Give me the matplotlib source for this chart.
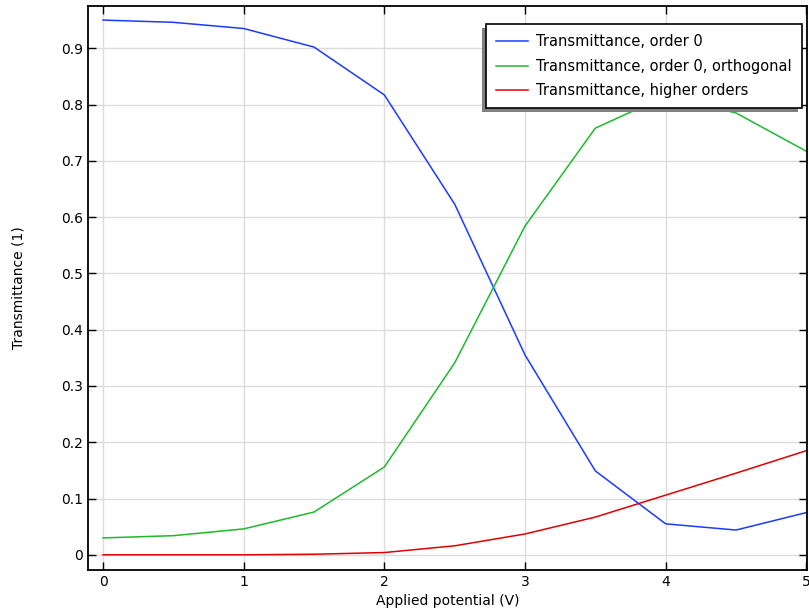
import matplotlib
matplotlib.use("Agg")
import matplotlib.pyplot as plt
from matplotlib.patches import Rectangle

voltage = [0, 0.5, 1, 1.5, 2, 2.5, 3, 3.5, 4, 4.5, 5]
t_order0 = [0.950, 0.946, 0.935, 0.902, 0.817, 0.623, 0.355, 0.149, 0.055, 0.044, 0.075]
t_order0_orth = [0.030, 0.034, 0.046, 0.076, 0.156, 0.341, 0.584, 0.758, 0.815, 0.785, 0.717]
t_higher = [0.0, 0.0, 0.0, 0.001, 0.004, 0.016, 0.037, 0.067, 0.106, 0.145, 0.185]

series_labels = ["Transmittance, order 0",
                 "Transmittance, order 0, orthogonal",
                 "Transmittance, higher orders"]
x_ticks = [0, 1, 2, 3, 4, 5]
y_ticks = [0, 0.1, 0.2, 0.3, 0.4, 0.5, 0.6, 0.7, 0.8, 0.9]
y_tick_labels = ["0", "0.1", "0.2", "0.3", "0.4", "0.5", "0.6", "0.7", "0.8", "0.9"]

plt.rcParams["font.family"] = ["DejaVu Sans"]
fig = plt.figure(figsize=(8.09, 6.12), dpi=100)
ax = fig.add_axes([88 / 809, 1 - 570 / 612, (807 - 88) / 809, (570 - 6) / 612])

colors = ["#1a3cff", "#1fb82f", "#e00000"]
for yv, lab, c in zip([t_order0, t_order0_orth, t_higher], series_labels, colors):
    ax.plot(voltage, yv, color=c, lw=1.1, label=lab)

ax.set_xlim(-0.107, 5.005)
ax.set_ylim(-0.027, 0.975)
ax.set_xticks(x_ticks)
ax.set_xticklabels([str(v) for v in x_ticks])
ax.set_yticks(y_ticks)
ax.set_yticklabels(y_tick_labels)
ax.grid(True, color="#dcdcdc", lw=1.0)
ax.set_axisbelow(True)
ax.tick_params(direction="in", length=6, width=1, top=True, right=True,
               labelsize=10, colors="black")
for s in ax.spines.values():
    s.set_linewidth(1.3)
    s.set_color("black")

ax.set_xlabel("Applied potential (V)", fontsize=10, labelpad=4)
ax.set_ylabel("Transmittance (1)", fontsize=10, labelpad=26)

leg = ax.legend(loc="upper right", bbox_to_anchor=(0.993, 0.968), fontsize=10.5,
                frameon=True, fancybox=False, edgecolor="black", framealpha=1,
                borderpad=0.7, labelspacing=0.65, handlelength=2.2,
                handletextpad=0.55, borderaxespad=0)
leg.get_frame().set_linewidth(1.2)

fig.canvas.draw()
bb = leg.get_window_extent()
shadow = Rectangle((bb.x0 - 4, bb.y0 - 4), bb.width, bb.height,
                   transform=None, facecolor="#808080", edgecolor="none",
                   zorder=leg.get_zorder() - 0.1)
ax.add_artist(shadow)

fig.savefig("out.png", dpi=100)
